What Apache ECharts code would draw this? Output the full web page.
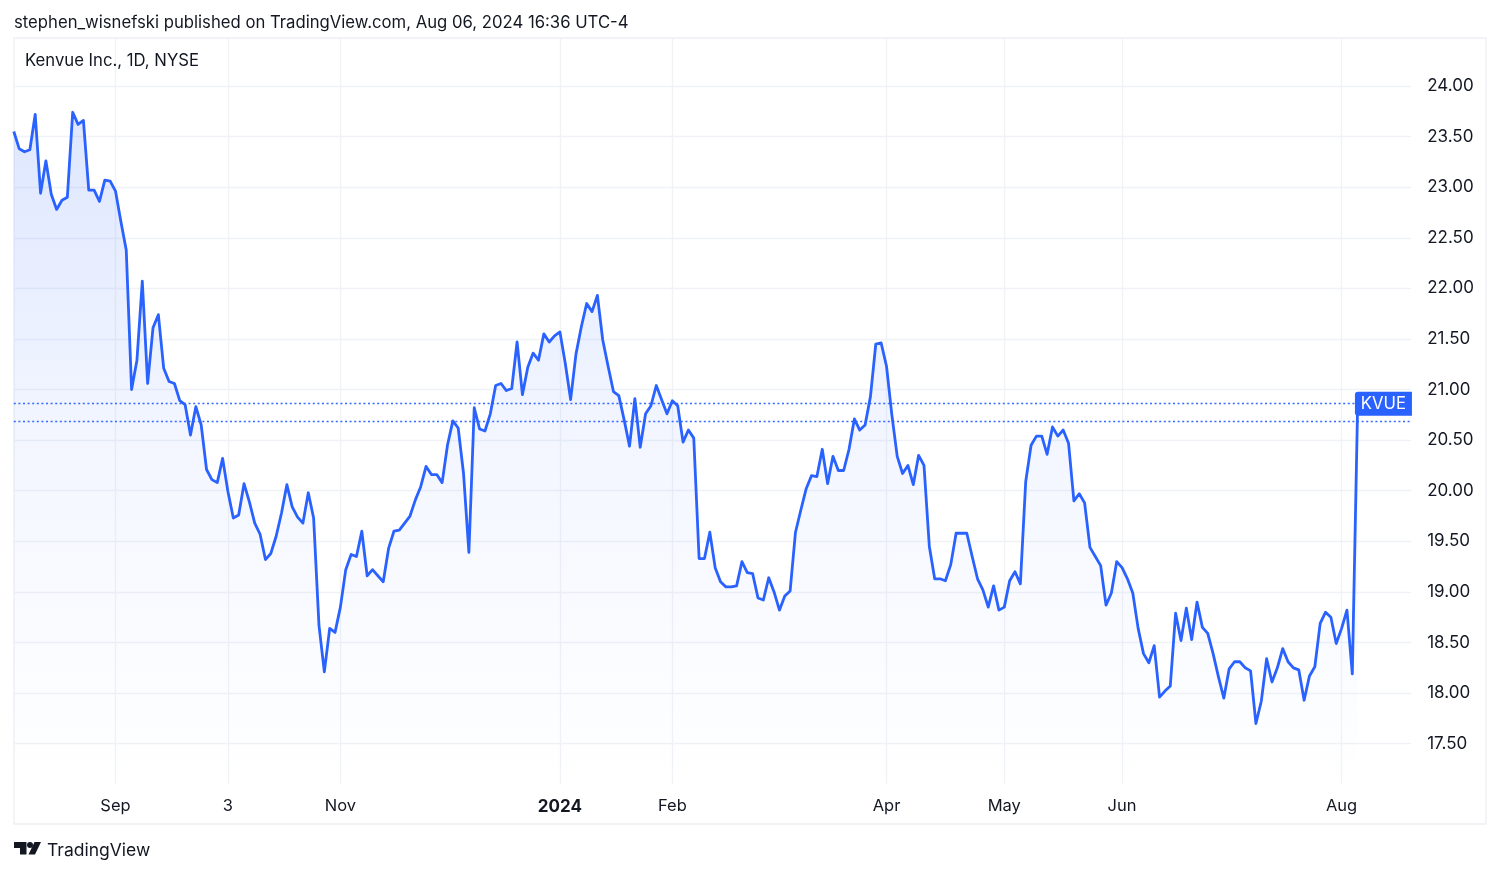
<!DOCTYPE html>
<html>
<head>
<meta charset="utf-8">
<title>KVUE</title>
<script src="https://cdn.jsdelivr.net/npm/echarts@6/dist/echarts.min.js"></script>
<style>
html, body { margin: 0; padding: 0; background: #fff; }
#main { width: 1500px; height: 873px; }
</style>
</head>
<body>
<div id="main"></div>
<script>
// daily close
var closes = [
    23.55, 23.38, 23.35, 23.37, 23.72, 22.94, 23.26, 22.93, 22.78, 22.87,
    22.90, 23.74, 23.62, 23.66, 22.97, 22.97, 22.86, 23.07, 23.06, 22.96,
    22.66, 22.38, 21.00, 21.29, 22.07, 21.06, 21.61, 21.74, 21.21, 21.08,
    21.06, 20.89, 20.85, 20.55, 20.83, 20.65, 20.21, 20.11, 20.08, 20.32,
    19.99, 19.73, 19.76, 20.07, 19.89, 19.68, 19.57, 19.32, 19.38, 19.55,
    19.78, 20.06, 19.84, 19.74, 19.68, 19.98, 19.73, 18.67, 18.21, 18.64,
    18.60, 18.85, 19.22, 19.37, 19.35, 19.60, 19.16, 19.22, 19.16, 19.10,
    19.43, 19.60, 19.61, 19.68, 19.75, 19.91, 20.04, 20.24, 20.16, 20.16,
    20.08, 20.45, 20.69, 20.62, 20.17, 19.39, 20.82, 20.61, 20.59, 20.76,
    21.04, 21.06, 20.99, 21.01, 21.47, 20.95, 21.22, 21.36, 21.29, 21.55,
    21.47, 21.53, 21.57, 21.26, 20.90, 21.35, 21.62, 21.85, 21.77, 21.93,
    21.49, 21.23, 20.98, 20.94, 20.70, 20.44, 20.91, 20.43, 20.76, 20.84,
    21.04, 20.90, 20.76, 20.89, 20.84, 20.48, 20.60, 20.52, 19.33, 19.33,
    19.59, 19.24, 19.10, 19.05, 19.05, 19.06, 19.30, 19.19, 19.18, 18.94,
    18.92, 19.14, 19.00, 18.82, 18.96, 19.01, 19.59, 19.81, 20.02, 20.15,
    20.14, 20.41, 20.07, 20.34, 20.20, 20.20, 20.41, 20.71, 20.60, 20.65,
    20.93, 21.45, 21.46, 21.23, 20.75, 20.34, 20.17, 20.25, 20.06, 20.35,
    20.25, 19.45, 19.13, 19.13, 19.11, 19.27, 19.58, 19.58, 19.58, 19.35,
    19.13, 19.02, 18.85, 19.06, 18.82, 18.85, 19.11, 19.20, 19.08, 20.09,
    20.45, 20.54, 20.54, 20.36, 20.63, 20.54, 20.60, 20.47, 19.90, 19.97,
    19.88, 19.44, 19.35, 19.26, 18.87, 18.99, 19.30, 19.24, 19.13, 18.99,
    18.64, 18.39, 18.30, 18.47, 17.96, 18.02, 18.07, 18.79, 18.52, 18.84,
    18.53, 18.90, 18.65, 18.59, 18.39, 18.16, 17.95, 18.24, 18.31, 18.31,
    18.25, 18.22, 17.70, 17.92, 18.34, 18.11, 18.25, 18.44, 18.31, 18.25,
    18.23, 17.93, 18.17, 18.26, 18.69, 18.80, 18.75, 18.49, 18.64, 18.82,
    18.19, 20.86
];
var lastPrice = 20.86;
var otherPrice = 20.69;
var tickBars = [19, 40, 61, 102, 123, 163, 185, 207, 248];
var tickLabels = ['Sep', '3', 'Nov', '2024', 'Feb', 'Apr', 'May', 'Jun', 'Aug'];
var priceTicks = [17.5, 18, 18.5, 19, 19.5, 20, 20.5, 21, 21.5, 22, 22.5, 23, 23.5, 24];
var barCount = 262; // empty bars keep the gap on the right

var categories = [];
for (var i = 0; i < barCount; i++) {
    var at = tickBars.indexOf(i);
    categories.push(at >= 0 ? tickLabels[at] : String(i));
}
function isTickBar(index) {
    return tickBars.indexOf(index) >= 0;
}

var font = 'Inter, "Noto Sans", sans-serif';
var gridColor = '#f0f2f6';
var blue = '#2962FF';

var myChart = echarts.init(document.getElementById('main'));
var option = {
    animation: false,
    backgroundColor: '#fff',
    title: [
        {
            text: 'stephen_wisnefski published on TradingView.com, Aug 06, 2024 16:36 UTC-4',
            left: 9, top: 9,
            textStyle: {fontFamily: font, fontSize: 16.7, fontWeight: 400, color: '#131722'}
        },
        {
            text: 'Kenvue Inc., 1D, NYSE',
            left: 20, top: 47,
            textStyle: {fontFamily: font, fontSize: 16.7, fontWeight: 400, color: '#131722'}
        },
        {
            text: 'TradingView',
            left: 42, top: 837,
            textStyle: {fontFamily: font, fontSize: 17.5, fontWeight: 400, color: '#131722'}
        }
    ],
    grid: {left: 13.8, top: 38, width: 1397.4, height: 746},
    xAxis: {
        type: 'category',
        boundaryGap: false,
        data: categories,
        axisLine: {show: false},
        axisTick: {show: false, interval: function (index) { return isTickBar(index); }},
        splitLine: {
            show: true,
            interval: function (index) { return isTickBar(index); },
            lineStyle: {color: gridColor, width: 1.4}
        },
        axisLabel: {
            interval: function (index) { return isTickBar(index); },
            margin: 14,
            fontFamily: font,
            fontSize: 16.5,
            color: '#131722',
            formatter: function (value) {
                return value === '2024' ? '{b|2024}' : value;
            },
            rich: {b: {fontFamily: font, fontSize: 17, fontWeight: 700, color: '#131722'}}
        }
    },
    yAxis: {
        type: 'value',
        position: 'right',
        min: 17.102,
        max: 24.474,
        axisLine: {show: false},
        axisTick: {show: false, customValues: priceTicks},
        splitLine: {show: true, lineStyle: {color: gridColor, width: 1.4}},
        axisLabel: {
            customValues: priceTicks,
            margin: 16,
            padding: [5, 0, 0, 0],
            fontFamily: font,
            fontSize: 17,
            color: '#131722',
            formatter: function (value) { return value.toFixed(2); }
        }
    },
    graphic: [
        {
            type: 'rect',
            silent: true,
            z: -1,
            shape: {x: 14, y: 38, width: 1472, height: 786},
            style: {fill: 'none', stroke: '#eef0f4', lineWidth: 1.4}
        },
        {
            // logo
            type: 'group',
            left: 14, top: 842,
            children: [
                {type: 'polygon', shape: {points: [[0, 0], [12.5, 0], [12.5, 12.5], [6, 12.5], [6, 6], [0, 6]]}, style: {fill: '#131722'}},
                {type: 'circle', shape: {cx: 16, cy: 3, r: 3}, style: {fill: '#131722'}},
                {type: 'polygon', shape: {points: [[20.5, 0], [27, 0], [21, 12.5], [14.5, 12.5]]}, style: {fill: '#131722'}}
            ]
        }
    ],
    series: [
        {
            type: 'line',
            data: closes,
            showSymbol: false,
            symbol: 'none',
            smooth: false,
            clip: true,
            lineStyle: {color: blue, width: 2.8, join: 'round'},
            areaStyle: {
                origin: 'start',
                color: new echarts.graphic.LinearGradient(0, 112, 0, 784, [
                    {offset: 0, color: 'rgba(41,98,255,0.22)'},
                    {offset: 0.5, color: 'rgba(41,98,255,0.08)'},
                    {offset: 1, color: 'rgba(41,98,255,0)'}
                ], true)
            },
            markLine: {
                silent: true,
                symbol: 'none',
                animation: false,
                label: {show: false},
                lineStyle: {color: blue, type: [2, 2.6], width: 1.3, opacity: 0.95},
                data: [{yAxis: lastPrice}, {yAxis: otherPrice}]
            },
            markPoint: {
                silent: true,
                symbol: 'rect',
                symbolSize: 0,
                animation: false,
                data: [{coord: [categories[256], lastPrice]}],
                label: {
                    show: true,
                    position: 'inside',
                    offset: [-1, 0],
                    formatter: 'KVUE',
                    width: 57,
                    height: 24,
                    lineHeight: 24,
                    align: 'center',
                    verticalAlign: 'middle',
                    backgroundColor: blue,
                    borderRadius: [3, 0, 0, 3],
                    color: '#fff',
                    fontFamily: font,
                    fontSize: 16.7
                }
            }
        }
    ]
};
myChart.setOption(option);
</script>
</body>
</html>
